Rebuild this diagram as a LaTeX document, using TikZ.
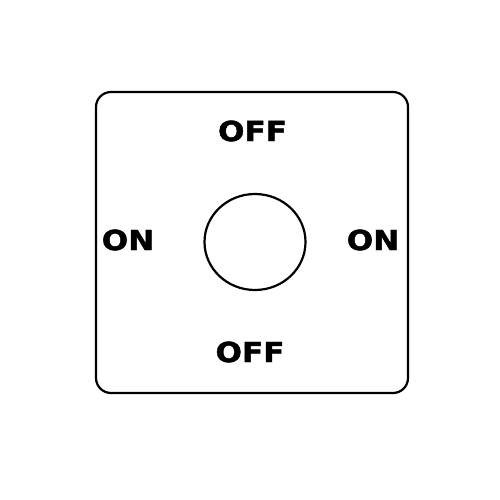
\documentclass[tikz,border=0pt]{standalone}
\usepackage{fontspec}
\usetikzlibrary{shapes.geometric}
\setmainfont{DejaVu Sans}[BoldFeatures={FakeBold=1.6}]
\begin{document}
\begin{tikzpicture}[x=1pt,y=-1pt,
  lbl/.style={inner sep=0pt,font=\fontsize{27.5}{28}\selectfont\bfseries},
  outline/.style={line width=2.2pt,black}]
\useasboundingbox (0,0) rectangle (500,500);
\fill[white] (0,0) rectangle (500,500);
\draw[outline,rounded corners=15pt] (96,92) rectangle (408,393);
\node[draw,outline,ellipse,minimum width=101pt,minimum height=96pt,inner sep=0pt] (hole) at (255,242) {};
\node[lbl] (offtop) at (252.5,131) {\scalebox{1.13}[1]{OFF}};
\node[lbl] (onleft) at (128,240) {\scalebox{1.13}[1]{ON}};
\node[lbl] (onright) at (373,240) {\scalebox{1.13}[1]{ON}};
\node[lbl] (offbot) at (250,352) {\scalebox{1.13}[1]{OFF}};
\end{tikzpicture}
\end{document}
